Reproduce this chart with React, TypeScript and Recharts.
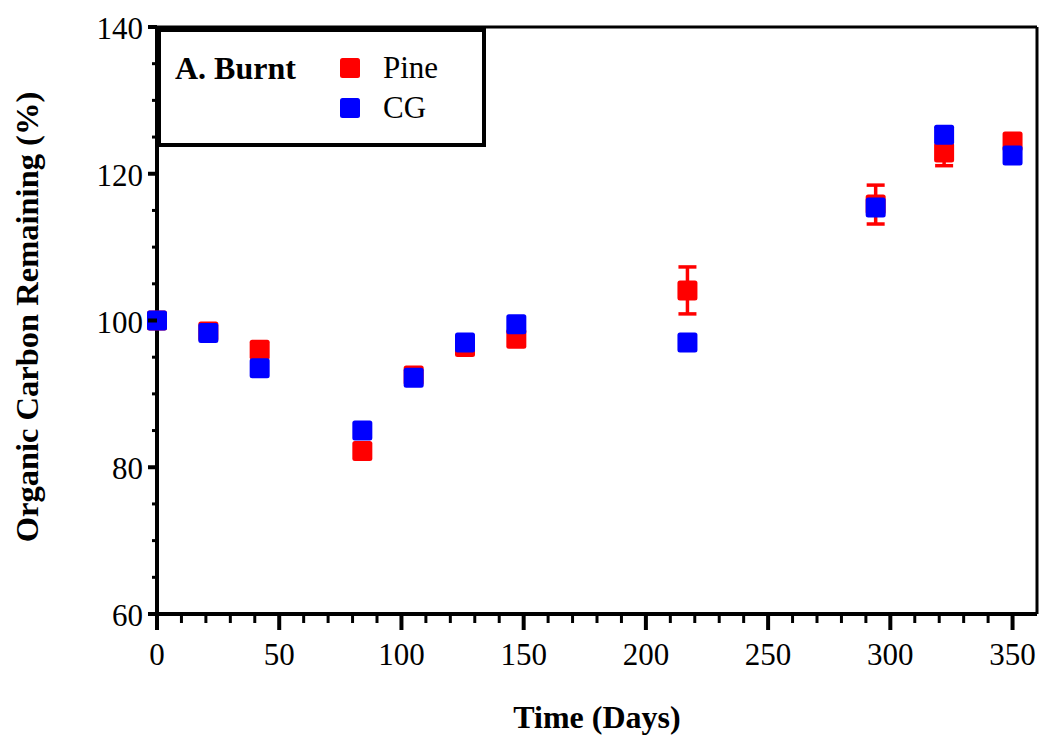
import React from 'react';
import {
  ScatterChart,
  Scatter,
  XAxis,
  YAxis,
  ErrorBar,
  ReferenceLine,
} from 'recharts';

// sampling days
const days = [0, 21, 42, 84, 105, 126, 147, 217, 294, 322, 350];

// Pine (burnt) - mean and SE
const pineMean = [100, 98.5, 96.0, 82.2, 92.5, 96.4, 97.5, 104.1, 115.8, 122.9, 124.4];
const pineErr = [0, 0, 0, 0, 0, 0, 0, 3.2, 2.65, 1.8, 0];

// CG (burnt) - mean
const cgMean = [100, 98.3, 93.5, 85.0, 92.2, 97.0, 99.5, 97.0, 115.4, 125.3, 122.5];

const xTicks = [
  0, 10, 20, 30, 40, 50, 60, 70, 80, 90, 100, 110, 120, 130, 140, 150, 160, 170, 180,
  190, 200, 210, 220, 230, 240, 250, 260, 270, 280, 290, 300, 310, 320, 330, 340, 350,
];
const yTicks = [60, 65, 70, 75, 80, 85, 90, 95, 100, 105, 110, 115, 120, 125, 130, 135, 140];

const seriesNames = ['Pine', 'CG'];
const seriesColors = ['#ff0000', '#0000ff'];
const panelTitle = 'A. Burnt';

const pineData = days.map((d, i) => ({ day: d, value: pineMean[i], err: pineErr[i] }));
const cgData = days.map((d, i) => ({ day: d, value: cgMean[i] }));

const FONT = '"Liberation Serif", "Times New Roman", serif';

const XTick = (props: any) => {
  const { x, y, payload } = props;
  const major = payload.value % 50 === 0;
  return (
    <g>
      <line x1={x} x2={x} y1={y} y2={y + (major ? 16 : 9)} stroke="#000" strokeWidth={major ? 4 : 3} />
      {major && (
        <text x={x} y={y + 51} textAnchor="middle" fontFamily={FONT} fontSize={31} fill="#000">
          {payload.value}
        </text>
      )}
    </g>
  );
};

const YTick = (props: any) => {
  const { x, y, payload } = props;
  const major = payload.value % 20 === 0;
  return (
    <g>
      <line x1={x - (major ? 9 : 5)} x2={x} y1={y} y2={y} stroke="#000" strokeWidth={major ? 4 : 3} />
      {major && (
        <text x={x - 14} y={y + 12} textAnchor="end" fontFamily={FONT} fontSize={31} fill="#000">
          {payload.value}
        </text>
      )}
    </g>
  );
};

const squareShape = (color: string) => (props: any) => {
  const { cx, cy } = props;
  return <rect x={cx - 10} y={cy - 10} width={20} height={20} rx={2.5} fill={color} />;
};

export default function App() {
  return (
    <div style={{ position: 'absolute', left: 0, top: 0, width: 1042, height: 739, background: '#fff' }}>
      <ScatterChart width={1042} height={739} margin={{ top: 27, right: 5, left: 0, bottom: 0 }}>
        <XAxis
          type="number"
          dataKey="day"
          domain={[0, 360]}
          ticks={xTicks}
          interval={0}
          height={125}
          tickSize={0}
          tickMargin={0}
          tickLine={false}
          tick={<XTick />}
          axisLine={{ stroke: '#000', strokeWidth: 4 }}
        />
        <YAxis
          type="number"
          dataKey="value"
          domain={[60, 140]}
          ticks={yTicks}
          interval={0}
          width={157}
          tickSize={0}
          tickMargin={0}
          tickLine={false}
          tick={<YTick />}
          axisLine={{ stroke: '#000', strokeWidth: 4 }}
        />
        <ReferenceLine y={140} stroke="#000" strokeWidth={3} />
        <ReferenceLine x={360} stroke="#000" strokeWidth={3} />
        <Scatter
          name={seriesNames[0]}
          data={pineData}
          fill={seriesColors[0]}
          shape={squareShape(seriesColors[0])}
          isAnimationActive={false}
        >
          <ErrorBar dataKey="err" direction="y" width={9} strokeWidth={3.5} stroke={seriesColors[0]} />
        </Scatter>
        <Scatter
          name={seriesNames[1]}
          data={cgData}
          fill={seriesColors[1]}
          shape={squareShape(seriesColors[1])}
          isAnimationActive={false}
        />
      </ScatterChart>

      {/* legend box + axis titles */}
      <svg
        width={1042}
        height={739}
        style={{ position: 'absolute', left: 0, top: 0, pointerEvents: 'none' }}
      >
        <rect x={159} y={30} width={325} height={115} fill="#fff" stroke="#000" strokeWidth={4} />
        <text x={175} y={79} fontFamily={FONT} fontSize={32} fontWeight="bold" fill="#000">
          {panelTitle}
        </text>
        {seriesNames.map((name, i) => (
          <g key={name}>
            <rect x={340} y={58 + i * 40} width={20} height={20} rx={2.5} fill={seriesColors[i]} />
            <text x={383} y={78 + i * 40} fontFamily={FONT} fontSize={31} fill="#000">
              {name}
            </text>
          </g>
        ))}
        <text x={597} y={728} textAnchor="middle" fontFamily={FONT} fontSize={32} fontWeight="bold" fill="#000">
          Time (Days)
        </text>
        <text
          x={0}
          y={0}
          transform="translate(38, 317) rotate(-90)"
          textAnchor="middle"
          fontFamily={FONT}
          fontSize={32.5}
          fontWeight="bold"
          fill="#000"
        >
          Organic Carbon Remaining (%)
        </text>
      </svg>
    </div>
  );
}
